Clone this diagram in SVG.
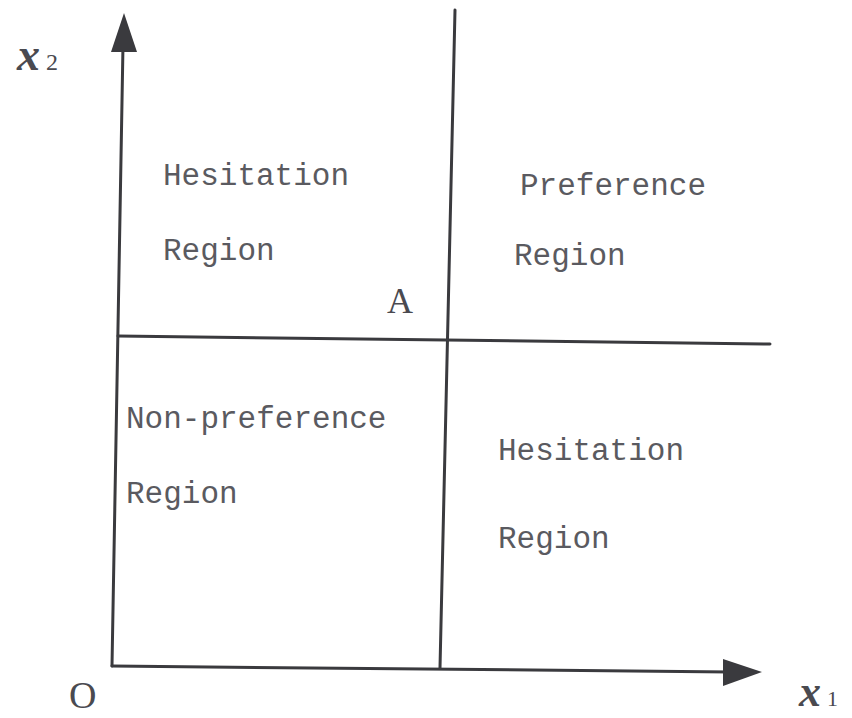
<svg xmlns="http://www.w3.org/2000/svg" width="852" height="718" viewBox="0 0 852 718">
<style>
.ln{stroke:#3a3a3e;stroke-width:3;fill:none;stroke-linecap:round}
.lb{font-family:"Liberation Mono","DejaVu Sans Mono",monospace;font-size:31px;fill:#5a5a60}
.sf{font-family:"Liberation Serif","DejaVu Serif",serif;fill:#4a4a50}
.it{font-style:italic;font-weight:bold}
</style>
<rect width="852" height="718" fill="#ffffff"/>
<g id="connectors">
<line class="ln" x1="123" y1="45" x2="112" y2="666"/>
<polygon points="124,13 137,52 111,52" fill="#3a3a3e"/>
<line class="ln" x1="112" y1="666" x2="730" y2="672"/>
<polygon points="762,672 723,659 723,686" fill="#3a3a3e"/>
<line class="ln" x1="455" y1="10" x2="440" y2="668"/>
<line class="ln" x1="118" y1="336" x2="770" y2="344"/>
</g>
<g id="hesitation-top">
<text class="lb" x="163" y="185">Hesitation</text>
<text class="lb" x="163" y="260">Region</text>
</g>
<g id="preference">
<text class="lb" x="520" y="195">Preference</text>
<text class="lb" x="514" y="265">Region</text>
</g>
<g id="point-a">
<text class="sf" x="387" y="313" font-size="36">A</text>
</g>
<g id="non-preference">
<text class="lb" x="126" y="428">Non-preference</text>
<text class="lb" x="126" y="503">Region</text>
</g>
<g id="hesitation-bottom">
<text class="lb" x="498" y="460">Hesitation</text>
<text class="lb" x="498" y="548">Region</text>
</g>
<g id="axis-labels">
<text class="sf" x="17" y="70"><tspan class="it" font-size="46">x</tspan><tspan font-size="24" dx="6">2</tspan></text>
<text class="sf" x="69" y="708" font-size="38">O</text>
<text class="sf" x="799" y="706"><tspan class="it" font-size="44">x</tspan><tspan font-size="22" dx="6">1</tspan></text>
</g>
</svg>
